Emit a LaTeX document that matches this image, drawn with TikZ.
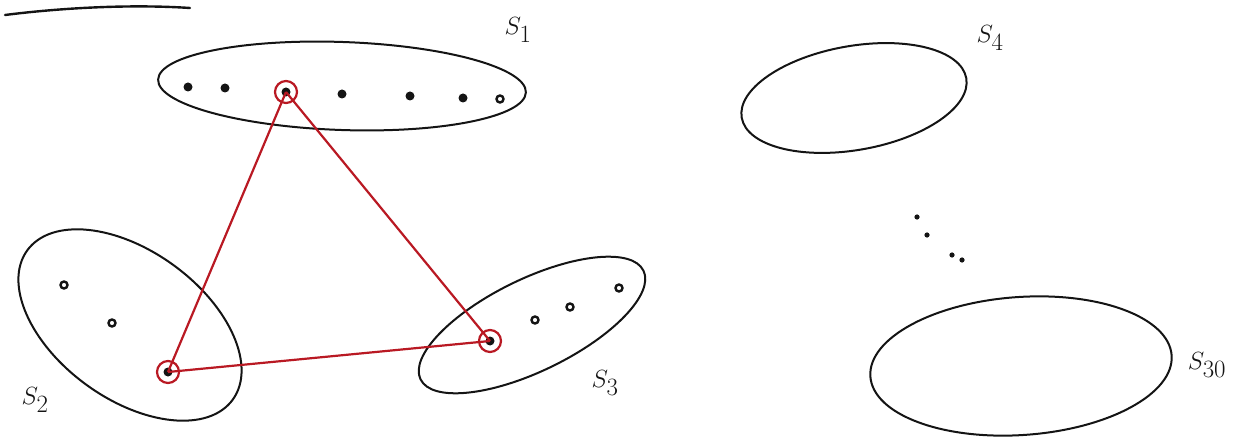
\documentclass[tikz,border=0pt]{standalone}
\usepackage{tikz}
\definecolor{ink}{RGB}{20,20,20}
\definecolor{redink}{RGB}{185,25,35}
\begin{document}
\begin{tikzpicture}[x=1pt,y=-1pt,
  blob/.style={draw=ink,line width=2pt},
  dot/.style={circle,fill=ink,inner sep=0pt,minimum size=9pt},
  ring/.style={circle,draw=ink,line width=2.4pt,inner sep=0pt,minimum size=7pt},
  hit/.style={circle,draw=redink,line width=2.2pt,inner sep=0pt,minimum size=22pt},
  edge/.style={draw=redink,line width=2.2pt},
  lab/.style={text=ink,font=\fontsize{36}{38}\selectfont}]
\useasboundingbox (0,0) rectangle (1239,438);
% top-left stroke
\draw[ink,line width=2.4pt,line cap=round] (5,15) .. controls (60,8) and (130,4) .. (190,8);
% S1
\draw[blob] (342,86) ellipse [x radius=184, y radius=44, rotate=-2];
\node[dot] (a1) at (188,87) {};
\node[dot] (a2) at (225,88) {};
\node[dot] (p1) at (286,92) {};
\node[dot] (a4) at (342,94) {};
\node[dot] (a5) at (410,96) {};
\node[dot] (a6) at (463,98) {};
\node[ring] (a7) at (500,99) {};
\node[hit] (h1) at (p1) {};
\node[lab] (l1) at (518,30) {$S_1$};
% S2
\draw[blob] (130,325) ellipse [x radius=127, y radius=74, rotate=-36];
\node[ring] (b1) at (64,285) {};
\node[ring] (b2) at (112,323) {};
\node[dot] (p2) at (168,372) {};
\node[hit] (h2) at (p2) {};
\node[lab] (l2) at (35,400) {$S_2$};
% S3
\draw[blob] (532,325) ellipse [x radius=124, y radius=46, rotate=26];
\node[dot] (p3) at (490,341) {};
\node[ring] (c2) at (535,320) {};
\node[ring] (c3) at (570,307) {};
\node[ring] (c4) at (619,288) {};
\node[hit] (h3) at (p3) {};
\node[lab] (l3) at (605,383) {$S_3$};
% triangle
\draw[edge] (p1.center) -- (p2.center);
\draw[edge] (p1.center) -- (p3.center);
\draw[edge] (p2.center) -- (p3.center);
% S4
\draw[blob] (854,98) ellipse [x radius=114, y radius=52, rotate=10];
\node[lab] (l4) at (990,38) {$S_4$};
% dots
\fill[ink] (917,217) circle (2.6) (927,235) circle (2.6) (952,255) circle (2.6) (962,260) circle (2.6);
% S30
\draw[blob] (1021,366) ellipse [x radius=151, y radius=69, rotate=4];
\node[lab] (l30) at (1207,365) {$S_{30}$};
\end{tikzpicture}
\end{document}
